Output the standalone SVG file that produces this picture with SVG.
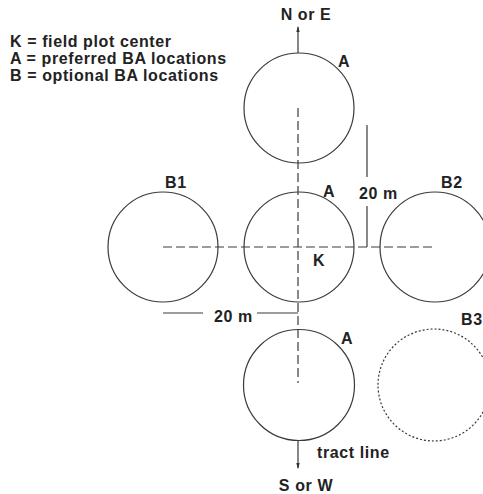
<svg xmlns="http://www.w3.org/2000/svg" width="483" height="494" viewBox="0 0 483 494">
<defs>
<style>
.c{fill:none;stroke:#3a3a3a;stroke-width:1.2}
.d{fill:none;stroke:#3a3a3a;stroke-width:1.2;stroke-dasharray:2,2}
.l{fill:none;stroke:#3a3a3a;stroke-width:1.2}
.dl{fill:none;stroke:#3a3a3a;stroke-width:1.2;stroke-dasharray:9,4}
text{font-family:"Liberation Sans",Arial,sans-serif;font-weight:bold;font-size:16px;letter-spacing:0.6px;fill:#222}
</style>
<marker id="ah" viewBox="0 0 6 4" refX="5" refY="2" markerWidth="6" markerHeight="4" markerUnits="userSpaceOnUse" orient="auto">
<path d="M0,0.3 L6,2 L0,3.7 Z" fill="#333"/>
</marker>
</defs>
<rect width="483" height="494" fill="#fff"/>
<g id="legend">
<text x="10" y="47">K = field plot center</text>
<text x="10" y="64">A = preferred BA locations</text>
<text x="10" y="81">B = optional BA locations</text>
</g>
<g id="connectors">
<line class="dl" x1="298" y1="108" x2="298" y2="383"/>
<line class="dl" x1="163" y1="247" x2="433" y2="247"/>
<line class="l" x1="298" y1="53" x2="298" y2="27" marker-end="url(#ah)"/>
<line class="l" x1="298" y1="441" x2="298" y2="468" marker-end="url(#ah)"/>
<line class="l" x1="367" y1="125" x2="367" y2="177"/>
<line class="l" x1="367" y1="206" x2="367" y2="247"/>
<line class="l" x1="163" y1="313" x2="203" y2="313"/>
<line class="l" x1="257" y1="313" x2="298" y2="313"/>
</g>
<g id="A-top"><circle class="c" cx="299" cy="108" r="55"/><text x="338" y="67">A</text></g>
<g id="A-center"><circle class="c" cx="299" cy="247" r="55"/><text x="323" y="197">A</text><text x="313" y="266">K</text></g>
<g id="A-bottom"><circle class="c" cx="299" cy="385" r="55.5"/><text x="341" y="344">A</text></g>
<g id="B1"><circle class="c" cx="163" cy="247" r="55"/><text x="165" y="188">B1</text></g>
<g id="B2"><circle class="c" cx="435" cy="247" r="55"/><text x="441" y="188">B2</text></g>
<g id="B3"><circle class="d" cx="434" cy="385" r="56"/><text x="461" y="325">B3</text></g>
<g id="labels">
<text x="306" y="20" text-anchor="middle">N or E</text>
<text x="306" y="491" text-anchor="middle">S or W</text>
<text x="317" y="458">tract line</text>
<text x="359" y="199">20 m</text>
<text x="214" y="322">20 m</text>
</g>
</svg>
